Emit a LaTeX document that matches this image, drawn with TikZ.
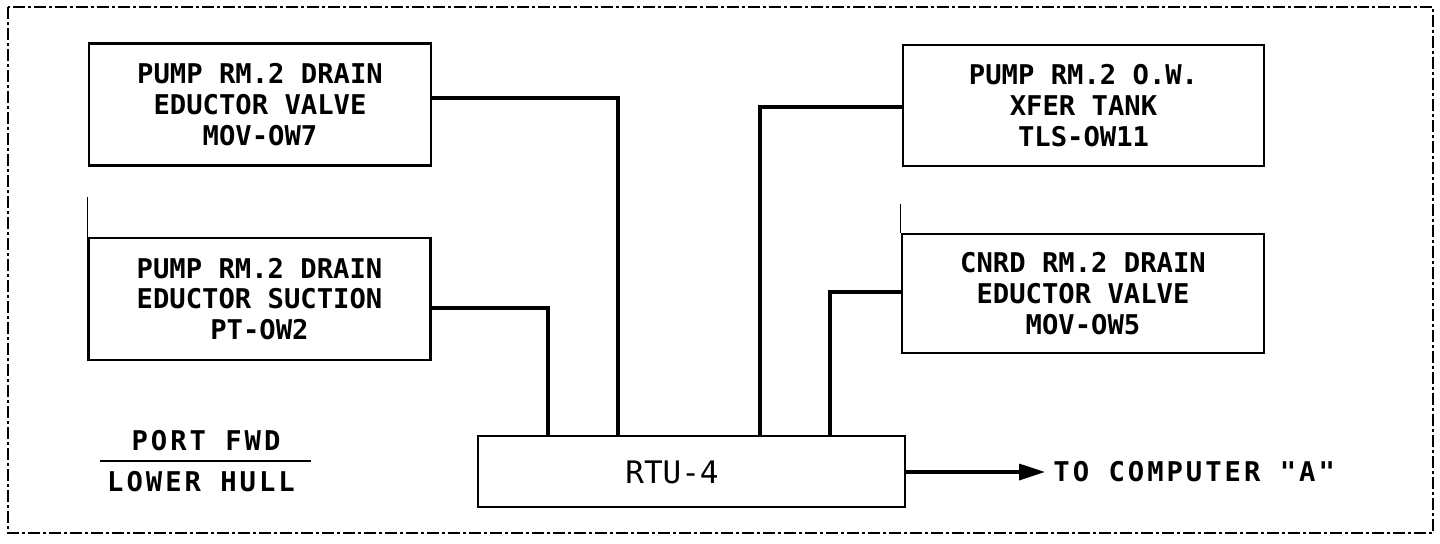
\documentclass[tikz,border=0pt]{standalone}
\usepackage{fontspec}
\setmonofont{DejaVu Sans Mono}
\usetikzlibrary{arrows.meta}
\begin{document}
\begin{tikzpicture}[x=0.5pt,y=-0.5pt,
  txt/.style={font=\ttfamily\bfseries\fontsize{13.6}{15.3}\selectfont},
  wtxt/.style={font=\ttfamily\bfseries\fontsize{13.6}{15.3}\selectfont\addfontfeature{LetterSpace=11}},
  blk/.style={draw, line width=1.3pt, minimum width=171pt, minimum height=61pt, inner sep=0pt,
    align=center, txt},
  lbl/.style={inner sep=0pt, wtxt},
  wire/.style={line width=1.7pt},
  stub/.style={line width=0.7pt},
  frame/.style={line width=1.2pt, dash pattern=on 6pt off 1.5pt on 1.5pt off 1.5pt}]
\useasboundingbox (0,0) rectangle (1440,543);
\draw[frame] (8,7) rectangle (1433,533);
\node[blk] (b1) at (260,104.5) {PUMP RM.2 DRAIN\\EDUCTOR VALVE\\MOV-OW7};
\node[blk] (b2) at (259.5,299) {PUMP RM.2 DRAIN\\EDUCTOR SUCTION\\PT-OW2};
\node[blk, minimum width=180.5pt, minimum height=60.5pt] (b3) at (1083.5,105.5) {PUMP RM.2 O.W.\\XFER TANK\\TLS-OW11};
\node[blk, minimum width=181pt, minimum height=59.5pt] (b4) at (1083,293.5) {CNRD RM.2 DRAIN\\EDUCTOR VALVE\\MOV-OW5};
\node[blk, minimum width=213.5pt, minimum height=35.5pt] (rtu) at (691.5,471.5) {};
\node[inner sep=0pt, font=\ttfamily\fontsize{15.5}{17}\selectfont] (rtut) at (672,472) {RTU-4};
\draw[stub] (b2.north west) -- ++(0,-40);
\draw[stub] (b4.north west) -- ++(0,-29);
\draw[wire] (b1.east |- 0,98) -| (618,0 |- rtu.north);
\draw[wire] (b2.east |- 0,308) -| (548,0 |- rtu.north);
\draw[wire] (b3.west |- 0,107) -| (760,0 |- rtu.north);
\draw[wire] (b4.west |- 0,292) -| (830,0 |- rtu.north);
\coordinate (tip) at (1045,472);
\draw[wire, -{Triangle[length=13pt,width=8pt]}] (rtu.east |- tip) -- (tip);
\node[lbl, anchor=west] (comp) at (1053,472) {TO COMPUTER "A"};
\node[lbl] (port) at (206,441) {PORT FWD};
\node[lbl] (hull) at (201,482) {LOWER HULL};
\coordinate (ul) at (100,461);
\coordinate (ur) at (311,461);
\draw[line width=1.4pt] (ul) -- (ur);
\end{tikzpicture}
\end{document}
